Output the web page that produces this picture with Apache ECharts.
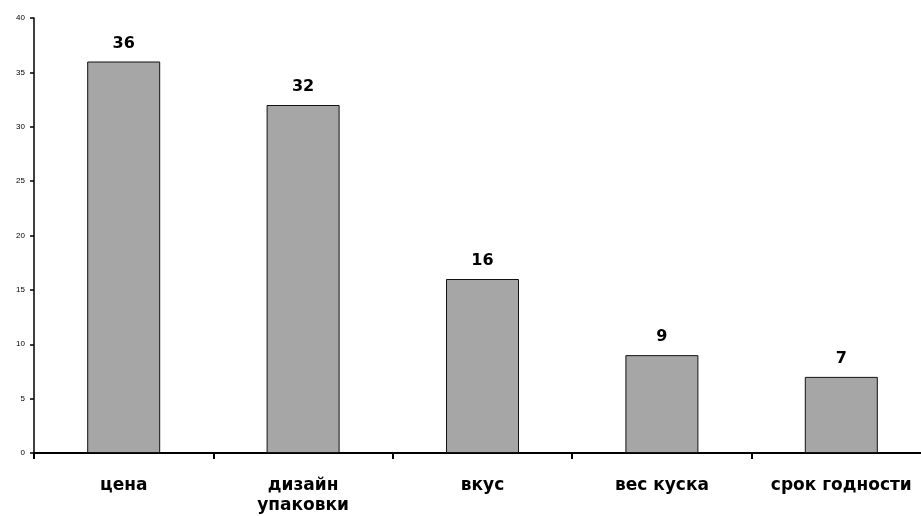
<!DOCTYPE html>
<html><head><meta charset="utf-8">
<script src="https://cdn.jsdelivr.net/npm/echarts@6/dist/echarts.min.js"></script>
<style>html,body{margin:0;padding:0;background:#fff}#c{width:921px;height:516px}</style>
</head><body><div id="c"></div>
<script>
const categories = ['цена', 'дизайн\nупаковки', 'вкус', 'вес куска', 'срок годности'];
const values = [36, 32, 16, 9, 7];
const yTicks = [0, 5, 10, 15, 20, 25, 30, 35, 40];

const chart = echarts.init(document.getElementById('c'), null, {renderer: 'canvas'});
chart.setOption({
  animation: false,
  backgroundColor: '#ffffff',
  grid: {left: 34, top: 18, width: 897, height: 435, containLabel: false, outerBoundsMode: 'none'},
  xAxis: {
    type: 'category',
    data: categories,
    axisLine: {lineStyle: {color: '#000', width: 2}},
    axisTick: {show: true, length: 6, lineStyle: {color: '#000', width: 2}, alignWithLabel: false},
    axisLabel: {color: '#000', fontFamily: 'DejaVu Sans', fontWeight: 'bold', fontSize: 17, margin: 23, lineHeight: 20, interval: 0},
    splitLine: {show: false}
  },
  yAxis: {
    type: 'value', min: yTicks[0], max: yTicks[yTicks.length - 1], interval: 5,
    axisLine: {show: true, lineStyle: {color: '#000', width: 1.5}},
    axisTick: {show: true, length: 4, lineStyle: {color: '#000', width: 1.5}},
    axisLabel: {color: '#000', fontFamily: 'Liberation Sans, Arial', fontSize: 8, margin: 9},
    splitLine: {show: false}
  },
  series: [{
    type: 'bar',
    data: values,
    barWidth: 73,
    itemStyle: {color: '#a6a6a6', borderColor: '#111', borderWidth: 1},
    label: {show: true, position: 'top', distance: 10, color: '#000', fontFamily: 'DejaVu Sans', fontWeight: 'bold', fontSize: 16}
  }]
});
</script></body></html>
